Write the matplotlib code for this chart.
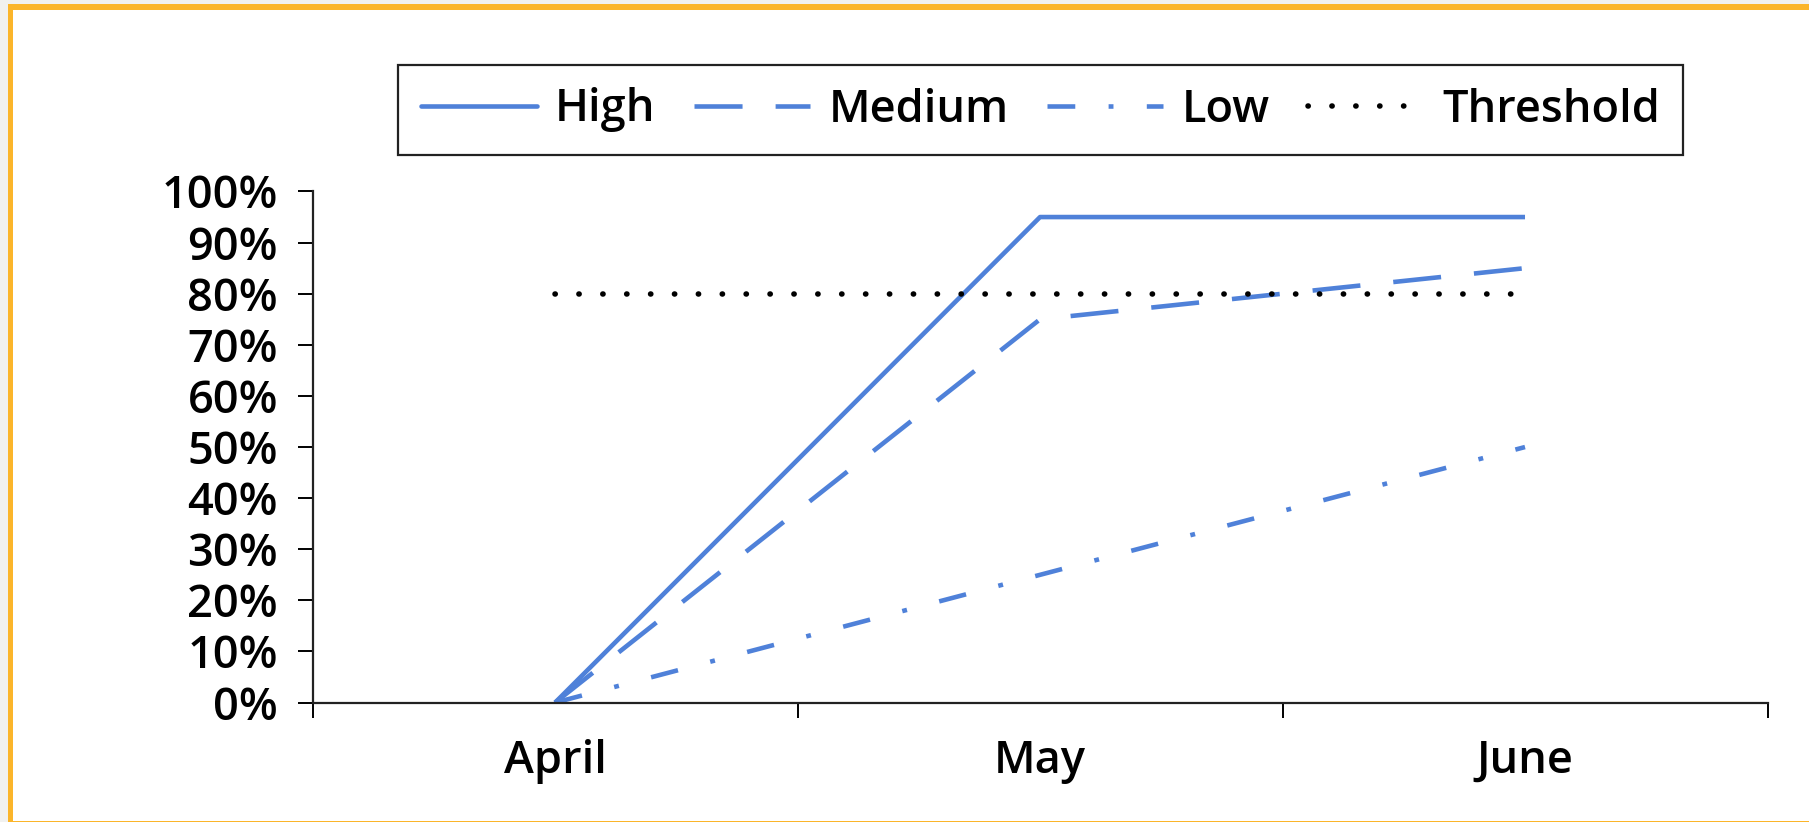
import matplotlib
matplotlib.use("Agg")
import matplotlib.pyplot as plt
from matplotlib.patches import Rectangle
from matplotlib.ticker import FixedLocator, PercentFormatter

# Monthly completion rates by priority level
months = ["April", "May", "June"]
high = [0, 95, 95]
medium = [0, 75, 85]
low = [0, 25, 50]
threshold = [80, 80, 80]
y_ticks = list(range(0, 101, 10))

plt.rcParams["font.family"] = ["Open Sans", "DejaVu Sans"]
plt.rcParams["font.weight"] = "semibold"

blue = "#4f81d9"
lw = 3.3
fs = 32.5

fig = plt.figure(figsize=(18.09, 8.22), dpi=100)
fig.patch.set_facecolor("white")

# page background and orange frame
fig.patches.append(Rectangle((0, 0), 1, 1, transform=fig.transFigure,
                             facecolor="#f1f1ef", edgecolor="none", zorder=-3))
fig.patches.append(Rectangle((8 / 1809, -0.01), 1.1, 1 - 4 / 822 + 0.01,
                             transform=fig.transFigure, facecolor="#fbb52a",
                             edgecolor="none", zorder=-2))
fig.patches.append(Rectangle((13 / 1809, 1 / 822), 1.1, 1 - 11 / 822,
                             transform=fig.transFigure, facecolor="white",
                             edgecolor="none", zorder=-1))

ax = fig.add_axes([312.6 / 1809, 1 - 702.6 / 822,
                   (1767.5 - 312.6) / 1809, (702.6 - 191.5) / 822])
ax.set_facecolor("none")

x = list(range(len(months)))
ax.plot(x, high, color=blue, lw=lw, solid_capstyle="butt", label="High")
ax.plot(x, medium, color=blue, lw=lw,
        linestyle=(0, (34.6 / lw, 23.8 / lw)), label="Medium")
ax.plot(x, low, color=blue, lw=lw,
        linestyle=(0, (20 / lw, 24 / lw, 3.5 / lw, 24 / lw)), label="Low")
ax.plot(x, threshold, color="black", lw=4, dash_capstyle="round",
        linestyle=(0, (0.05, 17 / 4)), label="Threshold")

ax.set_xlim(-0.5, len(months) - 0.5)
ax.set_ylim(0, 100)

ax.xaxis.set_major_locator(FixedLocator([i - 0.5 for i in range(len(months) + 1)]))
ax.xaxis.set_major_formatter(plt.NullFormatter())
ax.set_xticks(x, months, minor=True)
ax.tick_params(axis="x", which="major", length=11, width=1.4, direction="out")
ax.tick_params(axis="x", which="minor", length=0, pad=26, labelsize=fs)

ax.set_yticks(y_ticks)
ax.yaxis.set_major_formatter(PercentFormatter(decimals=0))
ax.tick_params(axis="y", length=11, width=1.4, pad=14, labelsize=fs)

for side in ("top", "right"):
    ax.spines[side].set_visible(False)
for side in ("left", "bottom"):
    ax.spines[side].set_linewidth(1.6)
    ax.spines[side].set_color("#222222")

leg = fig.legend(loc="center", bbox_to_anchor=(1040.5 / 1809, 1 - 110 / 822),
                 ncol=4, fontsize=fs, frameon=True, fancybox=False,
                 edgecolor="#222222", framealpha=1, handlelength=2.58,
                 handletextpad=0.4, columnspacing=0.85, borderpad=0.5,
                 borderaxespad=0)
leg.get_frame().set_linewidth(1.6)
for h in leg.get_lines():
    h.set_solid_capstyle("round")

fig.savefig("out.png", dpi=100)
